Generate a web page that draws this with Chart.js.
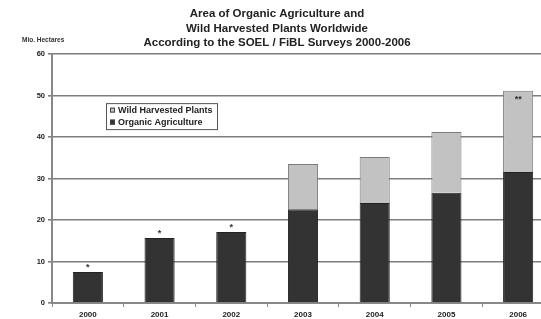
<!DOCTYPE html>
<html>
<head>
<meta charset="utf-8">
<script src="https://cdn.jsdelivr.net/npm/chart.js@4/dist/chart.umd.min.js"></script>
<style>
  html, body { margin: 0; padding: 0; background: #fff; overflow: hidden; }
  #wrap { width: 560px; height: 319px; }
</style>
</head>
<body>
<div id="wrap"><canvas id="myChart" width="560" height="319"></canvas></div>
<script>
const years = ["2000", "2001", "2002", "2003", "2004", "2005", "2006"];
const organic = [7.5, 15.7, 17.1, 22.6, 24.1, 26.6, 31.6];
const wild = [null, null, null, 10.9, 11.1, 14.6, 19.6];
const notes = ["*", "*", "*", "", "", "", "**"];
const yTicks = [0, 10, 20, 30, 40, 50, 60];

const FONT = "'Liberation Sans', Arial, sans-serif";

// asterisks above the stacks
const notesPlugin = {
    id: "notes",
    afterDatasetsDraw(chart) {
        const ctx = chart.ctx;
        const x = chart.scales.x, y = chart.scales.y;
        ctx.save();
        ctx.font = "bold 9px " + FONT;
        ctx.fillStyle = "#333";
        ctx.textAlign = "center";
        notes.forEach((n, i) => {
            if (!n) return;
            const total = (organic[i] || 0) + (wild[i] || 0);
            const px = x.getPixelForValue(i);
            const inside = total > 45;
            const py = inside ? y.getPixelForValue(total) + 11 : y.getPixelForValue(total) - 2;
            ctx.fillText(n, px, py);
        });
        ctx.restore();
    }
};

// boxed legend inside the plot + unit label
const boxLegend = {
    id: "boxLegend",
    afterDraw(chart) {
        const ctx = chart.ctx;
        const ca = chart.chartArea;
        const left = ca.left + 54, top = ca.top + 49, w = 111, h = 26;
        ctx.save();
        ctx.fillStyle = "#fff";
        ctx.fillRect(left, top, w, h);
        ctx.strokeStyle = "#555";
        ctx.lineWidth = 1;
        ctx.strokeRect(left + 0.5, top + 0.5, w, h);
        ctx.font = "bold 9px " + FONT;
        ctx.textBaseline = "middle";
        const items = [chart.data.datasets[1], chart.data.datasets[0]];
        items.forEach((ds, k) => {
            const cy = top + 7 + k * 12;
            ctx.fillStyle = ds.backgroundColor;
            ctx.fillRect(left + 4, cy - 2.5, 5, 5);
            ctx.strokeStyle = "#444";
            ctx.strokeRect(left + 4.5, cy - 2, 4, 4);
            ctx.fillStyle = "#222";
            ctx.fillText(ds.label, left + 12, cy);
        });
        ctx.font = "bold 6.5px " + FONT;
        ctx.textAlign = "left";
        ctx.fillStyle = "#333";
        ctx.fillText("Mio. Hectares", 22, 40);
        ctx.restore();
    }
};

const ctx = document.getElementById("myChart").getContext("2d");
const myChart = new Chart(ctx, {
    type: "bar",
    data: {
        labels: years,
        datasets: [
            {
                label: "Organic Agriculture",
                data: organic,
                backgroundColor: "#333333",
                borderColor: "#222222",
                borderWidth: 1,
            },
            {
                label: "Wild Harvested Plants",
                data: wild,
                backgroundColor: "#c2c2c2",
                borderColor: "#7a7a7a",
                borderWidth: 1,
            },
        ],
    },
    options: {
        responsive: false,
        animation: false,
        layout: { padding: { left: 0, right: 6, top: 0, bottom: 0 } },
        datasets: { bar: { barPercentage: 0.42, categoryPercentage: 1 } },
        plugins: {
            legend: { display: false },
            tooltip: { enabled: false },
            title: {
                display: true,
                text: ["Area of Organic Agriculture and", "Wild Harvested Plants Worldwide", "According to the SOEL / FiBL Surveys 2000-2006"],
                color: "#222",
                font: { family: FONT, size: 11.5, weight: "bold", lineHeight: 1.25 },
                padding: { top: 7, bottom: 4 },
            },
        },
        scales: {
            x: {
                stacked: true,
                afterFit(scale) { scale.height = 16; },
                grid: { display: true, drawOnChartArea: false, offset: true, tickLength: 4, color: "#888" },
                border: { color: "#888", width: 2 },
                ticks: { color: "#222", font: { family: FONT, size: 8, weight: "bold" }, padding: 3 },
            },
            y: {
                stacked: true,
                min: 0,
                max: 60,
                afterBuildTicks(scale) { scale.ticks = yTicks.map(v => ({ value: v })); },
                afterFit(scale) { scale.width = 52; },
                grid: { color: "#7e7e7e", lineWidth: 1.6, tickLength: 4 },
                border: { color: "#888", width: 2 },
                ticks: { color: "#222", font: { family: FONT, size: 7.5, weight: "bold" }, padding: 3 },
            },
        },
    },
    plugins: [notesPlugin, boxLegend],
});
</script>
</body>
</html>
